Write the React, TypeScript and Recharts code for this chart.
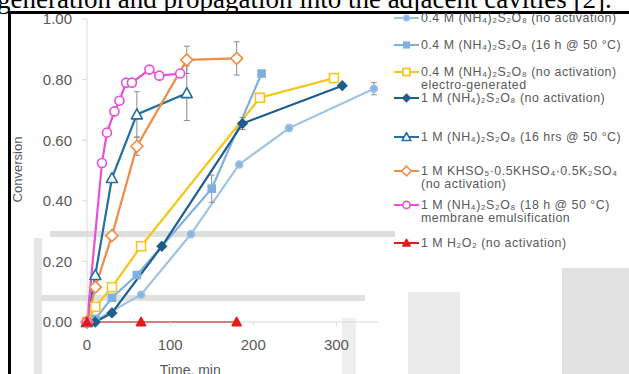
import { ErrorBar, Label, Line, LineChart, XAxis, YAxis } from "recharts";

// time (min) and conversion
const circleTimes = [0, 10, 65, 125, 183, 243, 345];
const circleValues = [0, 0.005, 0.09, 0.29, 0.52, 0.64, 0.77];
const circleErrors = [0, 0, 0, 0, 0, 0.01, 0.02];

const squareTimes = [0, 10, 30, 60, 150, 210];
const squareValues = [0, 0.01, 0.08, 0.155, 0.44, 0.82];
const squareErrors = [0, 0, 0, 0, 0.045, 0];

const yellowTimes = [0, 10, 30, 65, 208, 297];
const yellowValues = [0, 0.05, 0.115, 0.25, 0.74, 0.805];

const darkTimes = [0, 10, 30, 90, 187, 307];
const darkValues = [0, 0.0, 0.03, 0.25, 0.655, 0.78];
const darkErrors = [0, 0, 0, 0, 0.02, 0];

const triangleTimes = [0, 10, 30, 60, 120];
const triangleValues = [0, 0.155, 0.475, 0.685, 0.755];
const triangleErrors = [0, 0, 0, 0.075, 0.09];

const orangeTimes = [0, 10, 30, 60, 120, 180];
const orangeValues = [0, 0.115, 0.285, 0.58, 0.865, 0.87];
const orangeErrors = [0, 0, 0, 0.03, 0.045, 0.055];

const pinkTimes = [0, 18, 24, 33, 39, 47, 54, 75, 87, 112];
const pinkValues = [0, 0.525, 0.625, 0.695, 0.73, 0.79, 0.79, 0.833, 0.813, 0.82];

const redTimes = [0, 65, 180];
const redValues = [0, 0, 0];

const xTicks = [0, 100, 200, 300];
const yTicks = [0, 0.2, 0.4, 0.6, 0.8, 1.0];

type Shape = "circle" | "square" | "diamond" | "triangle";

type Series = {
  key: string;
  label: string[];
  color: string;
  shape: Shape;
  fill: string;
  size: number;
  times: number[];
  values: number[];
  errors?: number[];
};

const series: Series[] = [
  {
    key: "s1",
    label: ["0.4 M (NH₄)₂S₂O₈ (no activation)"],
    color: "#9cc3e6",
    shape: "circle",
    fill: "#86b5e0",
    size: 3.5,
    times: circleTimes,
    values: circleValues,
    errors: circleErrors,
  },
  {
    key: "s2",
    label: ["0.4 M (NH₄)₂S₂O₈ (16 h @ 50 °C)"],
    color: "#7fb0e0",
    shape: "square",
    fill: "#7fb0e0",
    size: 3.5,
    times: squareTimes,
    values: squareValues,
    errors: squareErrors,
  },
  {
    key: "s3",
    label: ["0.4 M (NH₄)₂S₂O₈ (no activation)", "electro-generated"],
    color: "#f5c518",
    shape: "square",
    fill: "#ffffff",
    size: 4.5,
    times: yellowTimes,
    values: yellowValues,
  },
  {
    key: "s4",
    label: ["1 M (NH₄)₂S₂O₈ (no activation)"],
    color: "#1d5e8e",
    shape: "diamond",
    fill: "#1d5e8e",
    size: 4.5,
    times: darkTimes,
    values: darkValues,
    errors: darkErrors,
  },
  {
    key: "s5",
    label: ["1 M (NH₄)₂S₂O₈ (16 hrs @ 50 °C)"],
    color: "#236fa1",
    shape: "triangle",
    fill: "#ffffff",
    size: 5.5,
    times: triangleTimes,
    values: triangleValues,
    errors: triangleErrors,
  },
  {
    key: "s6",
    label: ["1 M KHSO₅·0.5KHSO₄·0.5K₂SO₄", "(no activation)"],
    color: "#ef8c45",
    shape: "diamond",
    fill: "#ffffff",
    size: 6,
    times: orangeTimes,
    values: orangeValues,
    errors: orangeErrors,
  },
  {
    key: "s7",
    label: ["1 M (NH₄)₂S₂O₈ (18 h @ 50 °C)", "membrane emulsification"],
    color: "#e94fd8",
    shape: "circle",
    fill: "#ffffff",
    size: 4.5,
    times: pinkTimes,
    values: pinkValues,
  },
  {
    key: "s8",
    label: ["1 M H₂O₂ (no activation)"],
    color: "#e31b1b",
    shape: "triangle",
    fill: "#e31b1b",
    size: 4.5,
    times: redTimes,
    values: redValues,
  },
];

const legendRows = [18, 45, 72, 98, 137, 171, 205, 243];

function Marker({ shape, cx, cy, size, color, fill }: any) {
  const sw = 1.6;
  if (shape === "circle") {
    return <circle cx={cx} cy={cy} r={size} fill={fill} stroke={color} strokeWidth={sw} />;
  }
  if (shape === "square") {
    return (
      <rect x={cx - size} y={cy - size} width={size * 2} height={size * 2} fill={fill} stroke={color} strokeWidth={sw} />
    );
  }
  if (shape === "diamond") {
    const p = `${cx},${cy - size} ${cx + size},${cy} ${cx},${cy + size} ${cx - size},${cy}`;
    return <polygon points={p} fill={fill} stroke={color} strokeWidth={sw} />;
  }
  const p = `${cx},${cy - size} ${cx + size},${cy + size * 0.8} ${cx - size},${cy + size * 0.8}`;
  return <polygon points={p} fill={fill} stroke={color} strokeWidth={sw} strokeLinejoin="round" />;
}

function makeDot(s: Series) {
  return (props: any) => {
    const { cx, cy, index } = props;
    if (cx == null || cy == null) return <g key={index} />;
    return (
      <g key={index}>
        <Marker shape={s.shape} cx={cx} cy={cy} size={s.size} color={s.color} fill={s.fill} />
      </g>
    );
  };
}

// scan artefacts in the photographed page
const grayPatches = [
  { left: 50, top: 231, width: 345, height: 6, bg: "#dedede" },
  { left: 40, top: 295, width: 325, height: 6, bg: "#e0e0e0" },
  { left: 34, top: 238, width: 8, height: 136, bg: "#e6e6e6" },
  { left: 408, top: 292, width: 52, height: 82, bg: "#ececec" },
  { left: 562, top: 268, width: 67, height: 106, bg: "#e2e2e2" },
  { left: 342, top: 318, width: 14, height: 56, bg: "#eeeeee" },
];

const axisText = { fill: "#595959", fontSize: 15 };

export default function App() {
  return (
    <div
      style={{
        position: "absolute",
        left: 0,
        top: 0,
        width: 629,
        height: 374,
        overflow: "hidden",
        background: "#ffffff",
      }}
    >
      <div
        style={{
          position: "absolute",
          left: -3,
          top: -14,
          fontFamily: "'Liberation Serif', serif",
          fontSize: 27,
          lineHeight: "27px",
          whiteSpace: "nowrap",
          color: "#000",
        }}
      >
        generation and propagation into the adjacent cavities [2].
      </div>
      <div
        style={{
          position: "absolute",
          left: 8,
          top: 11,
          width: 640,
          height: 400,
          border: "3px solid #000",
          background: "#ffffff",
        }}
      />
      {grayPatches.map((g, i) => (
        <div
          key={i}
          style={{
            position: "absolute",
            left: g.left,
            top: g.top,
            width: g.width,
            height: g.height,
            background: g.bg,
          }}
        />
      ))}
      <div style={{ position: "absolute", left: 0, top: 0 }}>
        <LineChart
          width={390}
          height={374}
          margin={{ top: 19, right: 12, bottom: 0, left: 10 }}
          style={{ fontFamily: "'Liberation Sans', Arial, sans-serif" }}
        >
          <XAxis
            type="number"
            dataKey="t"
            domain={[0, 350]}
            ticks={xTicks}
            allowDuplicatedCategory={false}
            height={52}
            tickSize={4}
            tickMargin={13}
            stroke="#d9d9d9"
            tick={axisText}
          >
            <Label
              content={({ viewBox }: any) => (
                <text
                  x={viewBox.x + viewBox.width * 0.355}
                  y={viewBox.y + viewBox.height + 1}
                  textAnchor="middle"
                  fill="#595959"
                  fontSize={14}
                >
                  Time, min
                </text>
              )}
            />
          </XAxis>
          <YAxis
            type="number"
            domain={[0, 1]}
            ticks={yTicks}
            width={77}
            tickSize={5}
            tickMargin={10}
            stroke="#d9d9d9"
            tick={axisText}
            tickFormatter={(v: number) => v.toFixed(2)}
          >
            <Label
              content={({ viewBox }: any) => {
                const x = viewBox.x + 12;
                const y = viewBox.y + viewBox.height / 2 - 1;
                return (
                  <text
                    x={x}
                    y={y}
                    transform={`rotate(-90 ${x} ${y})`}
                    textAnchor="middle"
                    fill="#595959"
                    fontSize={13}
                  >
                    Conversion
                  </text>
                );
              }}
            />
          </YAxis>
          {series.map((s) => (
            <Line
              key={s.key}
              name={s.key}
              data={s.times.map((t, i) => ({
                t,
                v: s.values[i],
                e: s.errors ? s.errors[i] : 0,
              }))}
              dataKey="v"
              type="linear"
              stroke={s.color}
              strokeWidth={2.2}
              dot={makeDot(s)}
              activeDot={false}
              isAnimationActive={false}
            >
              {s.errors && (
                <ErrorBar dataKey="e" direction="y" width={3} stroke="#8c8c8c" strokeWidth={1} />
              )}
            </Line>
          ))}
        </LineChart>
      </div>
      {series.map((s, i) => (
        <div
          key={s.key}
          style={{
            position: "absolute",
            left: 393,
            top: legendRows[i] - 7,
            display: "flex",
            alignItems: "flex-start",
            fontFamily: "'Liberation Sans', Arial, sans-serif",
            fontSize: 12.4,
            letterSpacing: 0.5,
            lineHeight: "13px",
            color: "#595959",
            whiteSpace: "nowrap",
          }}
        >
          <svg width={28} height={14} style={{ flex: "none" }}>
            <line x1={1} y1={7} x2={26} y2={7} stroke={s.color} strokeWidth={2} />
            <Marker shape={s.shape} cx={13.5} cy={7} size={s.size * 0.8} color={s.color} fill={s.fill} />
          </svg>
          <div style={{ paddingTop: 0.5 }}>
            {s.label.map((line, j) => (
              <div key={j}>{line}</div>
            ))}
          </div>
        </div>
      ))}
    </div>
  );
}
